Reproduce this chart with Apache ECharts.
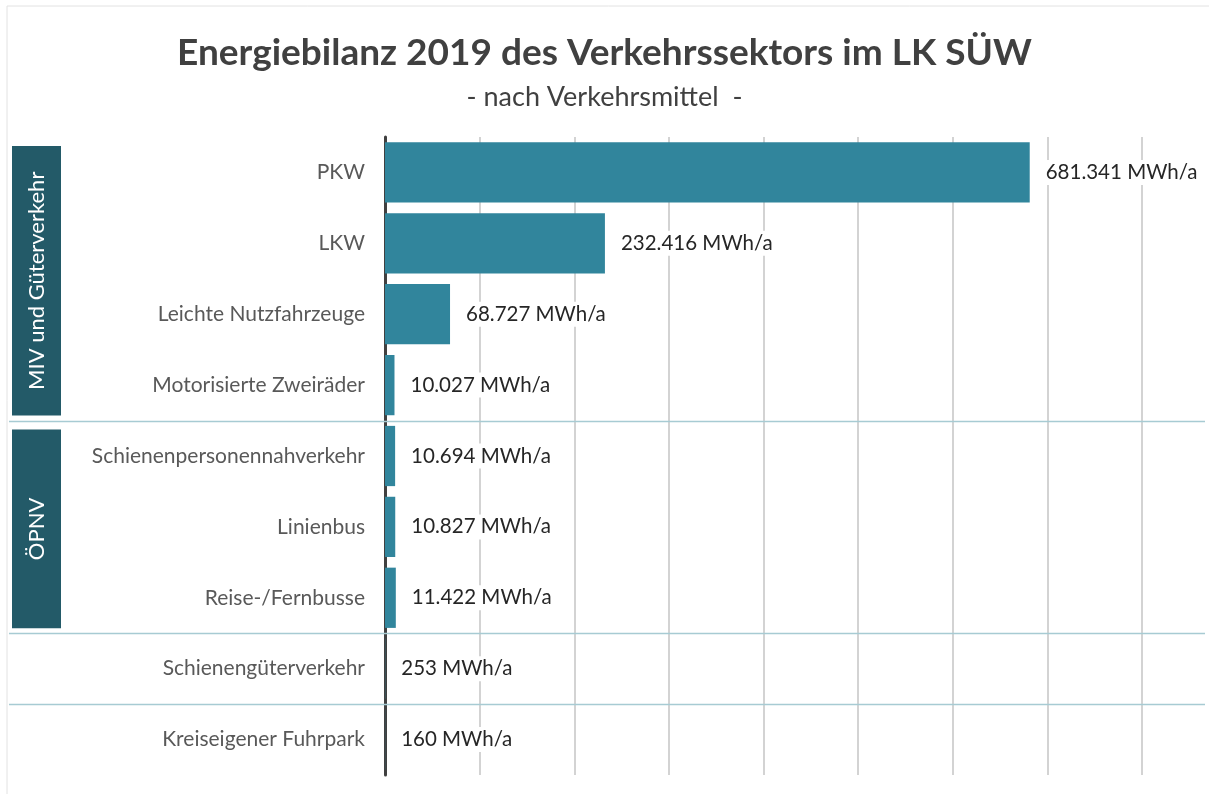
<!DOCTYPE html>
<html>
<head>
<meta charset="utf-8">
<script src="https://cdn.jsdelivr.net/npm/echarts@6/dist/echarts.min.js"></script>
<style>
  html, body { margin: 0; padding: 0; background: #fff; }
  #chart { width: 1209px; height: 794px; }
</style>
</head>
<body>
<div id="chart"></div>
<script>
// Verkehrsmittel, von oben nach unten
const categories = [
  "PKW",
  "LKW",
  "Leichte Nutzfahrzeuge",
  "Motorisierte Zweiräder",
  "Schienenpersonennahverkehr",
  "Linienbus",
  "Reise-/Fernbusse",
  "Schienengüterverkehr",
  "Kreiseigener Fuhrpark"
]
// Energieverbrauch in MWh/a
const values = [681341, 232416, 68727, 10027, 10694, 10827, 11422, 253, 160]
// Gruppen: Name, erster und letzter Index
const groups = [
  { name: "MIV und Güterverkehr", from: 0, to: 3 },
  { name: "ÖPNV", from: 4, to: 6 }
]
// Trennlinien nach diesen Indizes
const separators = [3, 6, 7]

const FONT = "Lato, 'Open Sans', sans-serif"
const chart = echarts.init(document.getElementById("chart"))

function fmt(v) {
  return String(v).replace(/\B(?=(\d{3})+(?!\d))/g, ".") + " MWh/a"
}

const option = {
  backgroundColor: "#fff",
  title: {
    text: "Energiebilanz 2019 des Verkehrssektors im LK SÜW",
    subtext: "- nach Verkehrsmittel  -",
    left: "center",
    top: 30,
    itemGap: 12,
    textStyle: { fontFamily: FONT, fontSize: 37, fontWeight: "bold", color: "#404040" },
    subtextStyle: { fontFamily: FONT, fontSize: 27, color: "#404040" }
  },
  grid: { left: 385, right: 67, top: 137, bottom: 19 },
  xAxis: {
    type: "value",
    min: 0,
    max: 800000,
    interval: 100000,
    axisLabel: { show: false },
    axisLine: { show: false },
    axisTick: { show: false },
    splitLine: { lineStyle: { color: "#c4c4c4", width: 1.5 } }
  },
  yAxis: {
    type: "category",
    inverse: true,
    data: categories,
    axisTick: { show: false },
    axisLine: { lineStyle: { color: "#404040", width: 3 } },
    axisLabel: { fontFamily: FONT, fontSize: 21, color: "#595959", margin: 20 }
  },
  series: [
    {
      type: "bar",
      data: values,
      barCategoryGap: "15%",
      itemStyle: { color: "#31859c" },
      label: {
        show: true,
        position: "right",
        distance: 14,
        formatter: (p) => fmt(p.value),
        fontFamily: FONT,
        fontSize: 20.5,
        color: "#262626",
        backgroundColor: "#fff",
        padding: [2, 2]
      },
      z: 3
    }
  ]
}
chart.setOption(option)

function drawOverlay() {
  const yOf = (i) => chart.convertToPixel({ yAxisIndex: 0 }, categories[i])
  const band = yOf(1) - yOf(0)
  const graphics = [
    {
      type: "rect",
      shape: { x: 7, y: 6, width: 1220, height: 810 },
      style: { fill: null, stroke: "#e2e2e2", lineWidth: 1 },
      silent: true
    }
  ]
  separators.forEach((i) => {
    const y = Math.round(yOf(i) + band / 2) + 0.5
    graphics.push({
      type: "line",
      shape: { x1: 9, y1: y, x2: 1205, y2: y },
      style: { stroke: "#a7cbd3", lineWidth: 1.5 },
      z: 1
    })
  })
  groups.forEach((g) => {
    const top = yOf(g.from) - band / 2 + 9
    const bottom = yOf(g.to) + band / 2 - 5
    graphics.push({
      type: "rect",
      shape: { x: 12, y: top, width: 49, height: bottom - top },
      style: { fill: "#235a68" },
      z: 2
    })
    graphics.push({
      type: "text",
      x: 37,
      y: (top + bottom) / 2,
      rotation: Math.PI / 2,
      style: {
        text: g.name,
        fill: "#fff",
        font: "22px " + FONT,
        align: "center",
        verticalAlign: "middle"
      },
      z: 3
    })
  })
  chart.setOption({ graphic: graphics })
}
drawOverlay()
</script>
</body>
</html>
